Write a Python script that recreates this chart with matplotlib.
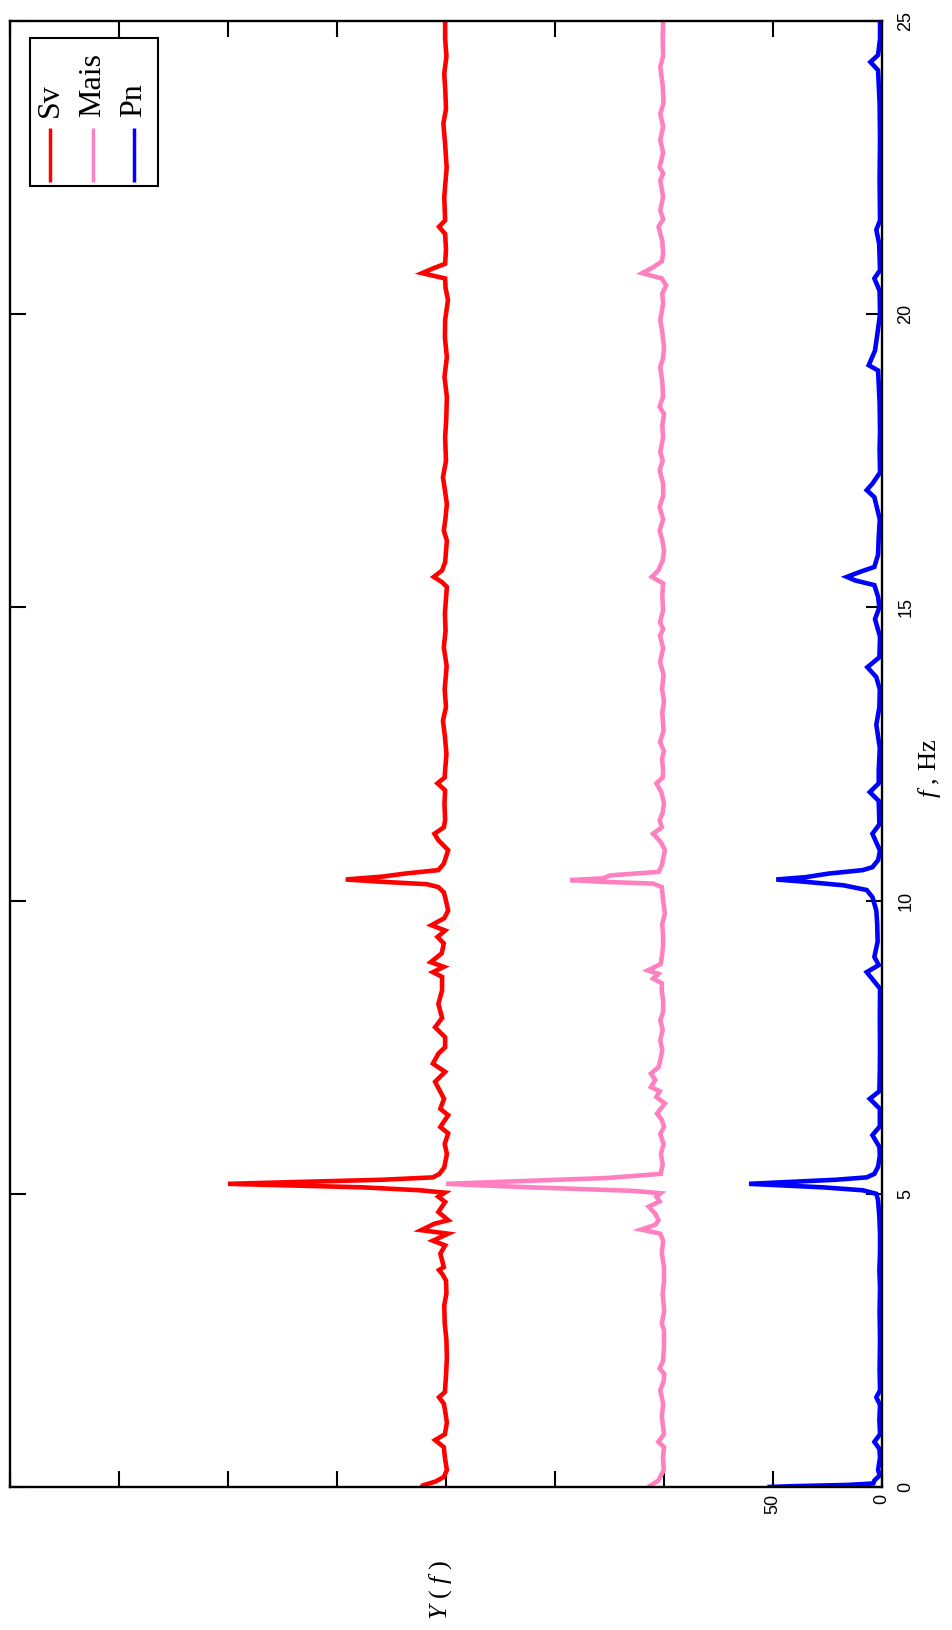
import matplotlib
matplotlib.use("Agg")
import matplotlib.pyplot as plt
from matplotlib.patches import Rectangle
from matplotlib.lines import Line2D

plt.rcParams['mathtext.fontset'] = 'custom'
plt.rcParams['mathtext.rm'] = 'Liberation Serif'
plt.rcParams['mathtext.it'] = 'Liberation Serif:italic'

# ---------------- data (f in Hz, Y(f) values incl. vertical offsets) ----------------
series_names = ["Sv", "Mais", "Pn"]
series_colors = ["#ff0000", "#ff80c0", "#0000ff"]

sv_f = [0.00, 0.03, 0.09, 0.17, 0.29, 0.50, 0.68, 0.80, 0.90, 1.10, 1.30, 1.42, 1.53, 1.62, 1.90, 2.20,
        2.50, 2.80, 3.10, 3.30, 3.52, 3.62, 3.70, 3.75, 3.98, 4.12, 4.20, 4.32, 4.38, 4.49, 4.55, 4.69,
        4.86, 4.95, 5.02, 5.06, 5.11, 5.17, 5.24, 5.28, 5.34, 5.45, 5.68, 5.85, 6.03, 6.14, 6.34, 6.45,
        6.62, 6.91, 7.08, 7.22, 7.39, 7.50, 7.67, 7.84, 8.00, 8.24, 8.47, 8.70, 8.78, 8.87, 8.95, 9.10,
        9.27, 9.38, 9.49, 9.58, 9.70, 9.83, 10.06, 10.14, 10.23, 10.28, 10.32, 10.36, 10.41, 10.46, 10.52,
        10.63, 10.86, 11.03, 11.14, 11.25, 11.37, 11.65, 11.88, 12.00, 12.10, 12.22, 12.50, 12.80, 13.07,
        13.30, 13.60, 14.00, 14.32, 14.60, 14.90, 15.20, 15.35, 15.43, 15.52, 15.63, 15.77, 16.14, 16.31,
        16.50, 16.76, 17.00, 17.22, 17.50, 17.90, 18.20, 18.59, 18.93, 19.27, 19.60, 19.90, 20.24, 20.45,
        20.61, 20.70, 20.78, 20.86, 21.10, 21.37, 21.49, 21.60, 22.00, 22.50, 22.90, 23.25, 23.50, 23.80,
        24.10, 24.40, 24.70, 25.00]
sv_y = [211.4, 210.5, 205.0, 201.0, 199.6, 200.5, 201.0, 205.0, 200.5, 199.6, 200.4, 201.0, 203.2, 200.5, 200.0, 199.6,
        199.8, 200.6, 200.8, 199.8, 200.0, 201.5, 203.2, 201.0, 202.6, 200.4, 206.0, 199.0, 211.4, 205.3, 199.0, 203.5,
        200.4, 203.5, 200.5, 212.0, 238.0, 300.0, 229.0, 206.0, 203.0, 200.8, 199.6, 200.6, 199.0, 202.6, 199.0, 202.6,
        200.9, 205.0, 200.4, 206.0, 203.5, 200.4, 200.4, 205.0, 201.8, 203.5, 201.8, 201.8, 206.0, 201.0, 207.0, 202.0,
        201.0, 203.9, 200.4, 206.7, 200.8, 199.0, 200.4, 201.0, 203.5, 208.8, 229.0, 246.0, 229.0, 219.0, 203.5,
        201.0, 199.0, 203.5, 205.3, 201.0, 200.4, 200.7, 200.4, 203.9, 200.6, 200.4, 199.8, 200.5, 201.4,
        200.0, 200.6, 199.7, 201.0, 200.2, 200.5, 199.9, 199.6, 201.8, 205.6, 201.8, 200.4, 199.6, 201.0,
        200.3, 199.6, 200.5, 201.4, 200.0, 200.4, 199.9, 199.6, 200.7, 199.6, 200.5, 200.4, 199.1, 200.2,
        200.4, 211.0, 206.0, 200.4, 200.0, 200.4, 203.2, 200.4, 200.8, 199.7, 200.4, 201.2, 200.0, 200.3,
        200.8, 199.8, 200.4, 200.4]

mais_f = [0.00, 0.03, 0.11, 0.29, 0.50, 0.68, 0.77, 0.90, 1.20, 1.42, 1.65, 1.80, 1.93, 2.02, 2.15, 2.40,
          2.67, 2.79, 3.00, 3.30, 3.50, 3.75, 3.98, 4.20, 4.32, 4.39, 4.47, 4.55, 4.66, 4.78, 4.87, 4.95,
          5.01, 5.05, 5.08, 5.11, 5.17, 5.27, 5.34, 5.50, 5.68, 5.85, 6.02, 6.14, 6.26, 6.37, 6.54, 6.65,
          6.75, 6.82, 6.94, 7.05, 7.16, 7.28, 7.45, 7.62, 7.80, 7.96, 8.10, 8.30, 8.45, 8.59, 8.67, 8.75,
          8.81, 8.92, 9.04, 9.20, 9.38, 9.60, 9.78, 10.00, 10.23, 10.29, 10.32, 10.35, 10.38, 10.43, 10.49,
          10.60, 10.86, 11.00, 11.14, 11.25, 11.37, 11.50, 11.65, 11.85, 12.00, 12.10, 12.22, 12.42, 12.55,
          12.70, 12.90, 13.20, 13.40, 13.61, 13.85, 14.07, 14.30, 14.52, 14.63, 14.75, 14.95, 15.20, 15.41,
          15.52, 15.63, 15.80, 15.97, 16.15, 16.31, 16.50, 16.71, 16.90, 17.11, 17.34, 17.50, 17.65, 17.90,
          18.10, 18.30, 18.42, 18.60, 18.85, 19.10, 19.25, 19.44, 19.70, 19.90, 20.18, 20.35, 20.49, 20.61,
          20.70, 20.80, 20.90, 21.03, 21.25, 21.49, 21.62, 21.77, 22.00, 22.28, 22.40, 22.51, 22.75, 22.97,
          23.20, 23.42, 23.60, 23.90, 24.22, 24.40, 24.70, 25.00]
mais_y = [107.4, 106.0, 102.6, 100.1, 100.5, 100.0, 102.6, 100.0, 101.0, 100.4, 101.7, 100.2, 99.9, 102.0, 100.4, 100.0,
          100.0, 101.0, 99.9, 100.6, 100.0, 100.0, 101.0, 100.4, 101.7, 110.5, 104.0, 102.5, 104.0, 107.0, 102.0, 103.5,
          101.5, 114.0, 138.0, 161.0, 200.0, 126.0, 101.5, 100.6, 101.4, 100.2, 101.7, 100.0, 101.0, 103.2, 99.6, 103.5,
          102.0, 106.0, 104.0, 106.0, 102.5, 101.7, 100.8, 101.7, 100.6, 101.7, 100.4, 100.4, 101.0, 101.0, 105.0, 102.6,
          107.4, 101.5, 101.0, 100.5, 100.4, 100.8, 99.6, 100.4, 101.0, 105.0, 128.0, 143.0, 128.0, 124.6, 102.5,
          101.0, 99.6, 101.5, 105.0, 101.0, 102.0, 100.6, 100.0, 101.2, 103.5, 100.6, 100.4, 100.9, 100.0,
          101.8, 100.2, 100.8, 100.0, 100.9, 100.2, 101.8, 100.4, 101.8, 100.4, 101.8, 100.4, 100.8, 100.4,
          105.6, 102.6, 100.6, 100.0, 100.8, 102.0, 100.4, 102.0, 100.4, 100.4, 102.0, 100.6, 101.7, 100.4,
          100.8, 100.0, 102.0, 100.4, 100.8, 101.7, 100.4, 100.0, 100.8, 101.7, 100.4, 100.8, 99.0, 101.0,
          110.0, 105.0, 101.0, 100.4, 100.8, 102.5, 100.4, 101.7, 100.4, 101.7, 100.4, 102.0, 100.4, 101.7,
          100.4, 101.7, 100.2, 100.6, 101.7, 100.4, 100.6, 100.4]

pn_f = [0.000, 0.015, 0.035, 0.06, 0.11, 0.20, 0.29, 0.50, 0.65, 0.77, 0.90, 1.15, 1.40, 1.53, 1.65, 2.00,
        2.50, 3.00, 3.40, 3.70, 4.00, 4.30, 4.60, 4.89, 5.00, 5.06, 5.11, 5.17, 5.24, 5.28, 5.34, 5.46,
        5.65, 5.80, 6.00, 6.15, 6.45, 6.62, 6.75, 7.10, 7.50, 7.96, 8.50, 8.78, 8.90, 9.04, 9.30, 9.60,
        9.83, 10.06, 10.18, 10.26, 10.32, 10.36, 10.40, 10.46, 10.52, 10.57, 10.69, 10.85, 11.14, 11.30,
        11.70, 11.85, 12.00, 12.22, 12.60, 13.00, 13.30, 13.60, 13.81, 13.98, 14.15, 14.50, 14.80, 15.00,
        15.18, 15.38, 15.46, 15.52, 15.60, 15.69, 15.90, 16.20, 16.50, 16.88, 17.00, 17.11, 17.30, 17.70,
        18.00, 18.50, 19.04, 19.13, 19.38, 19.67, 20.00, 20.40, 20.61, 20.75, 21.20, 21.44, 21.60, 22.30,
        23.00, 23.60, 24.16, 24.30, 24.42, 24.70, 25.00]
pn_y = [52.6, 40.0, 16.0, 4.0, 3.5, 1.0, 1.8, 0.9, 1.2, 3.5, 0.9, 1.2, 0.9, 2.6, 0.9, 1.1,
        0.9, 1.1, 0.9, 1.2, 0.9, 0.9, 1.2, 1.8, 2.6, 8.8, 27.0, 61.0, 21.0, 7.0, 3.5, 1.8,
        1.0, 1.2, 4.4, 1.0, 1.0, 5.6, 1.2, 1.0, 0.9, 1.0, 0.9, 7.0, 1.5, 3.5, 2.0, 2.2,
        2.6, 4.4, 7.0, 17.5, 35.0, 48.5, 35.0, 24.6, 8.8, 4.4, 1.8, 0.9, 4.4, 1.2,
        1.5, 5.6, 1.5, 1.5, 1.0, 2.6, 1.2, 1.0, 2.6, 6.7, 1.2, 0.9, 3.2, 1.2,
        1.8, 3.5, 12.3, 16.1, 10.5, 3.5, 1.8, 1.5, 1.0, 3.5, 7.0, 4.4, 0.9, 1.1,
        0.9, 1.1, 1.8, 6.1, 3.2, 2.1, 0.9, 1.1, 3.5, 0.9, 1.3, 2.6, 0.9, 1.1,
        0.9, 1.1, 1.8, 5.3, 1.8, 0.9, 0.9]

f_ticks = [0, 5, 10, 15, 20, 25]
y_ticks = [0, 50, 100, 150, 200, 250, 300, 350, 400]
y_ticklabels = ["0", "50", "", "", "", "", "", "", ""]

# ---------------- figure ----------------
W, H = 952, 1630
fig = plt.figure(figsize=(W / 100, H / 100), dpi=100)
fig.patch.set_facecolor("white")

L, R, T, B = 10, 882, 21, 1487
ax = fig.add_axes([L / W, 1 - B / H, (R - L) / W, (B - T) / H])

for fx_, fy_, c in zip([sv_f, mais_f, pn_f], [sv_y, mais_y, pn_y], series_colors):
    ax.plot(fy_, fx_, color=c, lw=3.3, solid_joinstyle="miter", solid_capstyle="butt")

ax.set_xlim(400, 0)
ax.set_ylim(0, 25)

for s in ax.spines.values():
    s.set_linewidth(1.7)
    s.set_color("black")

ax.set_xticks(y_ticks)
ax.set_xticklabels(y_ticklabels, rotation=90, va="top", ha="center",
                   fontfamily="Liberation Sans", fontsize=13)
ax.set_yticks(f_ticks)
ax.set_yticklabels([str(v) for v in f_ticks], rotation=90, va="center", ha="left",
                   fontfamily="Liberation Sans", fontsize=13)
ax.tick_params(axis="x", direction="in", length=11.5, width=1.5, top=True, bottom=True, pad=5)
ax.tick_params(axis="y", direction="in", length=11.5, width=1.5, left=True, right=True,
               labelleft=False, labelright=True, pad=11)

# axis titles
ax.set_ylabel(r"$f$ , Hz", rotation=90, fontsize=19, fontfamily="Liberation Serif")
ax.yaxis.set_label_position("right")
ax.yaxis.label.set_va("center")
ax.yaxis.label.set_ha("center")
ax.yaxis.set_label_coords((930 - L) / (R - L), 0.49)

ax.set_xlabel(r"$Y$ ( $f$ )", rotation=90, fontsize=19, fontfamily="Liberation Serif")
ax.xaxis.label.set_va("center")
ax.xaxis.label.set_ha("center")
ax.xaxis.set_label_coords((441 - L) / (R - L), -(1590 - B) / (B - T))

# legend (drawn rotated, like the rest of the chart)
def fx(px):
    return px / W

def fy(py):
    return 1 - py / H

fig.add_artist(Rectangle((fx(30), fy(186)), fx(158) - fx(30), fy(38) - fy(186),
                         transform=fig.transFigure, fill=False, edgecolor="black", lw=1.5))
for name, c, xc in zip(series_names, series_colors, [50, 93, 134]):
    fig.add_artist(Line2D([fx(xc), fx(xc)], [fy(128), fy(182)], transform=fig.transFigure,
                          color=c, lw=2.5, solid_capstyle="butt"))
    fig.text(fx(xc), fy(117), name, rotation=90, ha="center", va="bottom",
             fontfamily="Liberation Serif", fontsize=23)

fig.savefig("out.png", dpi=100, facecolor="white")
